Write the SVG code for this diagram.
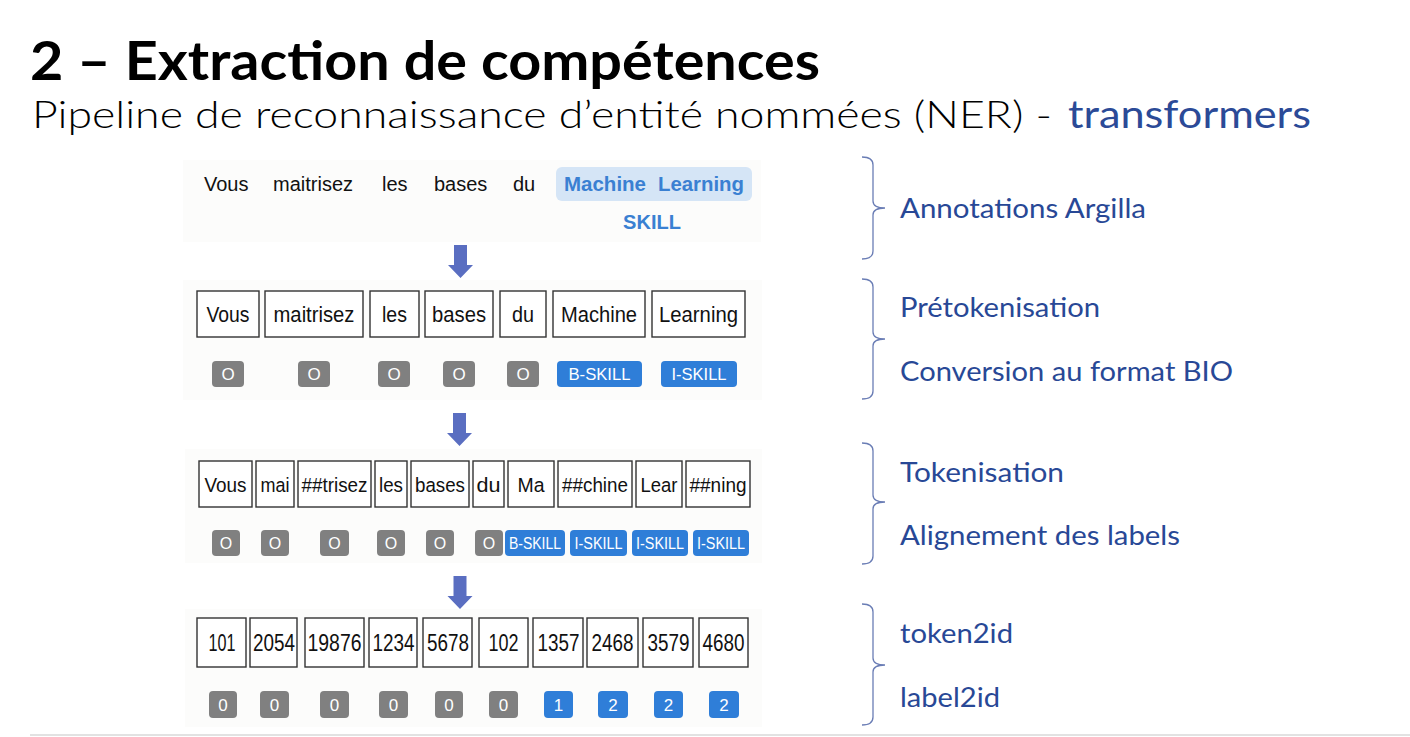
<svg xmlns="http://www.w3.org/2000/svg" width="1410" height="737" viewBox="0 0 1410 737">
<style>
.panel{fill:#fcfcfb}
.w{font-family:"Liberation Sans",Arial,sans-serif;font-size:20px;fill:#111}
.w2{font-family:"Liberation Sans",Arial,sans-serif;font-size:21.5px;fill:#111;text-anchor:middle}
.w3{font-family:"Liberation Sans",Arial,sans-serif;font-size:20.5px;fill:#111;text-anchor:middle}
.w4{font-family:"Liberation Sans",Arial,sans-serif;font-size:23px;fill:#111;text-anchor:middle}
.ml{font-family:"Liberation Sans",Arial,sans-serif;font-size:20px;font-weight:700;fill:#3a80d2}
.box{fill:#fff;stroke:#333;stroke-width:1.4}
.g{fill:#808080}
.b{fill:#2f7ed8}
.lt{font-family:"Liberation Sans",Arial,sans-serif;font-size:17px;fill:#fff;text-anchor:middle}
.lt3{font-family:"Liberation Sans",Arial,sans-serif;font-size:16px;fill:#fff;text-anchor:middle}
.r{font-family:Lato,"Noto Sans",sans-serif;font-size:26px;fill:#284896}
.br{fill:none;stroke:#6a7db5;stroke-width:1.3}
.arr{fill:#5a6ec1}
</style>
<defs>
<polygon id="arrow" points="-6.5,0 6.5,0 6.5,20 12.5,20 0,33 -12.5,20 -6.5,20"/>
</defs>
<rect width="1410" height="737" fill="#fff"/>

<g id="title">
<text x="30" y="80" font-family="Lato,'Open Sans',sans-serif" font-weight="700" font-size="53" fill="#000" textLength="790" lengthAdjust="spacingAndGlyphs">2 – Extraction de compétences</text>
<text x="32" y="128" font-family="Lato,'Open Sans',sans-serif" font-weight="300" font-size="38" fill="#000" textLength="1020" lengthAdjust="spacingAndGlyphs">Pipeline de reconnaissance d’entité nommées (NER) -</text>
<text x="1068" y="128" font-family="Lato,'Open Sans',sans-serif" font-weight="400" font-size="38" fill="#2b4a97" textLength="243" lengthAdjust="spacingAndGlyphs">transformers</text>
</g>

<rect class="panel" x="183" y="160" width="578" height="82"/>
<rect class="panel" x="183" y="280" width="579" height="120"/>
<rect class="panel" x="185" y="449" width="577" height="114"/>
<rect class="panel" x="185" y="609" width="577" height="118"/>

<g id="row1">
<text class="w" x="204" y="191">Vous</text>
<text class="w" x="273" y="191">maitrisez</text>
<text class="w" x="382" y="191">les</text>
<text class="w" x="434" y="191">bases</text>
<text class="w" x="513" y="191">du</text>
<rect x="556" y="167" width="196" height="34" rx="6" fill="#d5e5f6"/>
<text class="ml" x="564" y="191" textLength="82" lengthAdjust="spacingAndGlyphs">Machine</text>
<text class="ml" x="658" y="191" textLength="86" lengthAdjust="spacingAndGlyphs">Learning</text>
<text class="ml" x="652" y="229" text-anchor="middle">SKILL</text>
</g>

<g id="row2">
<rect class="box" x="197" y="291" width="62" height="46"/>
<rect class="box" x="265" y="291" width="98" height="46"/>
<rect class="box" x="370" y="291" width="49" height="46"/>
<rect class="box" x="425" y="291" width="68" height="46"/>
<rect class="box" x="500" y="291" width="46" height="46"/>
<rect class="box" x="553" y="291" width="92" height="46"/>
<rect class="box" x="652" y="291" width="93" height="46"/>
<text class="w2" x="228" y="322" textLength="43" lengthAdjust="spacingAndGlyphs">Vous</text>
<text class="w2" x="314" y="322" textLength="81" lengthAdjust="spacingAndGlyphs">maitrisez</text>
<text class="w2" x="394.5" y="322" textLength="25" lengthAdjust="spacingAndGlyphs">les</text>
<text class="w2" x="459" y="322" textLength="54" lengthAdjust="spacingAndGlyphs">bases</text>
<text class="w2" x="523" y="322" textLength="22" lengthAdjust="spacingAndGlyphs">du</text>
<text class="w2" x="599" y="322" textLength="76" lengthAdjust="spacingAndGlyphs">Machine</text>
<text class="w2" x="698.5" y="322" textLength="79" lengthAdjust="spacingAndGlyphs">Learning</text>
<rect class="g" x="212" y="361" width="32" height="26" rx="4"/>
<rect class="g" x="298" y="361" width="32" height="26" rx="4"/>
<rect class="g" x="378" y="361" width="32" height="26" rx="4"/>
<rect class="g" x="443" y="361" width="32" height="26" rx="4"/>
<rect class="g" x="507" y="361" width="32" height="26" rx="4"/>
<rect class="b" x="557" y="361" width="85" height="26" rx="4"/>
<rect class="b" x="661" y="361" width="76" height="26" rx="4"/>
<text class="lt" x="228" y="380">O</text>
<text class="lt" x="314" y="380">O</text>
<text class="lt" x="394" y="380">O</text>
<text class="lt" x="459" y="380">O</text>
<text class="lt" x="523" y="380">O</text>
<text class="lt" x="599.5" y="380" textLength="62" lengthAdjust="spacingAndGlyphs">B-SKILL</text>
<text class="lt" x="699" y="380" textLength="55" lengthAdjust="spacingAndGlyphs">I-SKILL</text>
</g>

<g id="row3">
<rect class="box" x="199" y="461" width="53" height="46"/>
<rect class="box" x="256" y="461" width="38" height="46"/>
<rect class="box" x="298" y="461" width="73" height="46"/>
<rect class="box" x="375" y="461" width="32" height="46"/>
<rect class="box" x="411" y="461" width="58" height="46"/>
<rect class="box" x="473" y="461" width="31" height="46"/>
<rect class="box" x="508" y="461" width="46" height="46"/>
<rect class="box" x="558" y="461" width="74" height="46"/>
<rect class="box" x="636" y="461" width="46" height="46"/>
<rect class="box" x="686" y="461" width="64" height="46"/>
<text class="w3" x="225.5" y="492" textLength="42" lengthAdjust="spacingAndGlyphs">Vous</text>
<text class="w3" x="275" y="492" textLength="29" lengthAdjust="spacingAndGlyphs">mai</text>
<text class="w3" x="334.5" y="492" textLength="66" lengthAdjust="spacingAndGlyphs">##trisez</text>
<text class="w3" x="391" y="492" textLength="24" lengthAdjust="spacingAndGlyphs">les</text>
<text class="w3" x="440" y="492" textLength="50" lengthAdjust="spacingAndGlyphs">bases</text>
<text class="w3" x="488.5" y="492" textLength="24" lengthAdjust="spacingAndGlyphs">du</text>
<text class="w3" x="531" y="492" textLength="27" lengthAdjust="spacingAndGlyphs">Ma</text>
<text class="w3" x="595" y="492" textLength="66" lengthAdjust="spacingAndGlyphs">##chine</text>
<text class="w3" x="659" y="492" textLength="37" lengthAdjust="spacingAndGlyphs">Lear</text>
<text class="w3" x="718" y="492" textLength="57" lengthAdjust="spacingAndGlyphs">##ning</text>
<rect class="g" x="212" y="530" width="28" height="26" rx="4"/>
<rect class="g" x="261" y="530" width="28" height="26" rx="4"/>
<rect class="g" x="320" y="530" width="29" height="26" rx="4"/>
<rect class="g" x="377" y="530" width="28" height="26" rx="4"/>
<rect class="g" x="426" y="530" width="28" height="26" rx="4"/>
<rect class="g" x="475" y="530" width="28" height="26" rx="4"/>
<rect class="b" x="505" y="530" width="60" height="26" rx="4"/>
<rect class="b" x="570" y="530" width="57" height="26" rx="4"/>
<rect class="b" x="632" y="530" width="56" height="26" rx="4"/>
<rect class="b" x="693" y="530" width="56" height="26" rx="4"/>
<text class="lt3" x="226" y="549">O</text>
<text class="lt3" x="275" y="549">O</text>
<text class="lt3" x="334.5" y="549">O</text>
<text class="lt3" x="391" y="549">O</text>
<text class="lt3" x="440" y="549">O</text>
<text class="lt3" x="489" y="549">O</text>
<text class="lt3" x="535" y="549" textLength="52" lengthAdjust="spacingAndGlyphs">B-SKILL</text>
<text class="lt3" x="598.5" y="549" textLength="48" lengthAdjust="spacingAndGlyphs">I-SKILL</text>
<text class="lt3" x="660" y="549" textLength="48" lengthAdjust="spacingAndGlyphs">I-SKILL</text>
<text class="lt3" x="721" y="549" textLength="48" lengthAdjust="spacingAndGlyphs">I-SKILL</text>
</g>

<g id="row4">
<rect class="box" x="197" y="618" width="49" height="49"/>
<rect class="box" x="250" y="618" width="47" height="49"/>
<rect class="box" x="305" y="618" width="59" height="49"/>
<rect class="box" x="369" y="618" width="48" height="49"/>
<rect class="box" x="423" y="618" width="49" height="49"/>
<rect class="box" x="479" y="618" width="49" height="49"/>
<rect class="box" x="533" y="618" width="50" height="49"/>
<rect class="box" x="587" y="618" width="51" height="49"/>
<rect class="box" x="643" y="618" width="50" height="49"/>
<rect class="box" x="699" y="618" width="49" height="49"/>
<text class="w4" x="222" y="651" textLength="27" lengthAdjust="spacingAndGlyphs">101</text>
<text class="w4" x="274" y="651" textLength="42" lengthAdjust="spacingAndGlyphs">2054</text>
<text class="w4" x="334.5" y="651" textLength="54" lengthAdjust="spacingAndGlyphs">19876</text>
<text class="w4" x="393.5" y="651" textLength="42" lengthAdjust="spacingAndGlyphs">1234</text>
<text class="w4" x="448" y="651" textLength="42" lengthAdjust="spacingAndGlyphs">5678</text>
<text class="w4" x="503.5" y="651" textLength="30" lengthAdjust="spacingAndGlyphs">102</text>
<text class="w4" x="558.5" y="651" textLength="42" lengthAdjust="spacingAndGlyphs">1357</text>
<text class="w4" x="612.5" y="651" textLength="42" lengthAdjust="spacingAndGlyphs">2468</text>
<text class="w4" x="668.5" y="651" textLength="42" lengthAdjust="spacingAndGlyphs">3579</text>
<text class="w4" x="723.5" y="651" textLength="42" lengthAdjust="spacingAndGlyphs">4680</text>
<rect class="g" x="209" y="691" width="28" height="27" rx="4"/>
<rect class="g" x="260" y="691" width="29" height="27" rx="4"/>
<rect class="g" x="320" y="691" width="29" height="27" rx="4"/>
<rect class="g" x="379" y="691" width="29" height="27" rx="4"/>
<rect class="g" x="435" y="691" width="28" height="27" rx="4"/>
<rect class="g" x="489" y="691" width="29" height="27" rx="4"/>
<rect class="b" x="544" y="691" width="29" height="27" rx="4"/>
<rect class="b" x="598" y="691" width="30" height="27" rx="4"/>
<rect class="b" x="654" y="691" width="29" height="27" rx="4"/>
<rect class="b" x="709" y="691" width="30" height="27" rx="4"/>
<text class="lt" x="223" y="710.5">0</text>
<text class="lt" x="274.5" y="710.5">0</text>
<text class="lt" x="334.5" y="710.5">0</text>
<text class="lt" x="393.5" y="710.5">0</text>
<text class="lt" x="449" y="710.5">0</text>
<text class="lt" x="503.5" y="710.5">0</text>
<text class="lt" x="558.5" y="710.5">1</text>
<text class="lt" x="613" y="710.5">2</text>
<text class="lt" x="668.5" y="710.5">2</text>
<text class="lt" x="724" y="710.5">2</text>
</g>

<g id="connectors">
<use href="#arrow" class="arr" x="460.5" y="245"/>
<use href="#arrow" class="arr" x="459.5" y="413"/>
<use href="#arrow" class="arr" x="460" y="576"/>
<path class="br" d="M862,157 Q873,157 873,165 L873,201 Q873,208 885,208 Q873,208 873,215 L873,251 Q873,259 862,259"/>
<path class="br" d="M862,279 Q873,279 873,287 L873,332 Q873,339 885,339 Q873,339 873,346 L873,391 Q873,399 862,399"/>
<path class="br" d="M862,443 Q873,443 873,451 L873,495 Q873,502 885,502 Q873,502 873,509 L873,556 Q873,564 862,564"/>
<path class="br" d="M862,604 Q873,604 873,612 L873,658 Q873,665 885,665 Q873,665 873,672 L873,717 Q873,725 862,725"/>
</g>

<g id="labels">
<text class="r" x="900" y="218" textLength="246" lengthAdjust="spacingAndGlyphs">Annotations Argilla</text>
<text class="r" x="900" y="317" textLength="200" lengthAdjust="spacingAndGlyphs">Prétokenisation</text>
<text class="r" x="900" y="381" textLength="333" lengthAdjust="spacingAndGlyphs">Conversion au format BIO</text>
<text class="r" x="900" y="482" textLength="164" lengthAdjust="spacingAndGlyphs">Tokenisation</text>
<text class="r" x="900" y="545" textLength="280" lengthAdjust="spacingAndGlyphs">Alignement des labels</text>
<text class="r" x="900" y="643" textLength="113" lengthAdjust="spacingAndGlyphs">token2id</text>
<text class="r" x="900" y="707" textLength="100" lengthAdjust="spacingAndGlyphs">label2id</text>
</g>

<line x1="30" y1="735" x2="1410" y2="735" stroke="#e2e2e2" stroke-width="2"/>
</svg>
